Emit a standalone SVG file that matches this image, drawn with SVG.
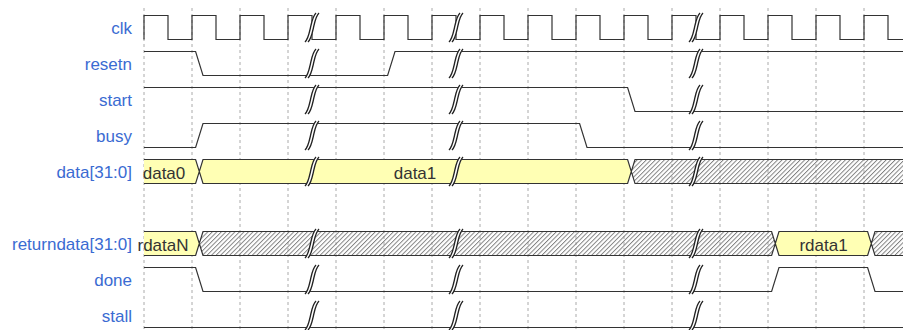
<svg xmlns="http://www.w3.org/2000/svg" xmlns:xlink="http://www.w3.org/1999/xlink" width="903" height="330" viewBox="0 0 903 330">
<style>
.lbl{font-family:"Liberation Sans",Arial,sans-serif;font-size:17px;fill:#3a6bd2;text-anchor:end}
.dt{font-family:"Liberation Sans",Arial,sans-serif;font-size:17px;fill:#333;text-anchor:middle}
.grid line{stroke:#aaa;stroke-width:1;stroke-dasharray:3,3}
.w{fill:none;stroke:#333;stroke-width:1.2}
.y{fill:#ffffb4;stroke:none}
.h{fill:url(#hatch);stroke:none}
.gw{fill:none;stroke:#fff;stroke-width:3.4}
.gl{fill:none;stroke:#222;stroke-width:1.3}
</style>
<defs>
<pattern id="hatch" width="3.2" height="3.2" patternUnits="userSpaceOnUse" patternTransform="rotate(45)">
<line x1="0.5" y1="0" x2="0.5" y2="3.2" stroke="#777" stroke-width="0.9"/>
</pattern>
<g id="gap">
<path class="gw" d="M5.5,-14.5 C2,-11 1,-4 0,0 C-1,4 -2,11 -5.5,14.5"/>
<path class="gl" d="M4,-14.5 C0.5,-11 -0.5,-4 -1.5,0 C-2.5,4 -3.5,11 -7,14.5"/>
<path class="gl" d="M7,-14.5 C3.5,-11 2.5,-4 1.5,0 C0.5,4 -0.5,11 -4,14.5"/>
</g>
</defs>
<g id="grid" class="grid">
<line x1="144" y1="8" x2="144" y2="330"/><line x1="192" y1="8" x2="192" y2="330"/><line x1="240" y1="8" x2="240" y2="330"/><line x1="288" y1="8" x2="288" y2="330"/><line x1="336" y1="8" x2="336" y2="330"/><line x1="384" y1="8" x2="384" y2="330"/><line x1="432" y1="8" x2="432" y2="330"/><line x1="480" y1="8" x2="480" y2="330"/><line x1="528" y1="8" x2="528" y2="330"/><line x1="576" y1="8" x2="576" y2="330"/><line x1="624" y1="8" x2="624" y2="330"/><line x1="672" y1="8" x2="672" y2="330"/><line x1="720" y1="8" x2="720" y2="330"/><line x1="768" y1="8" x2="768" y2="330"/><line x1="816" y1="8" x2="816" y2="330"/><line x1="864" y1="8" x2="864" y2="330"/>
</g>
<g id="clk">
<text class="lbl" x="132" y="33.5">clk</text>
<path class="w" d="M144,39.5 V15.5 H168 V39.5 H192 V15.5 H216 V39.5 H240 V15.5 H264 V39.5 H288 V15.5 H312 V39.5 H336 V15.5 H360 V39.5 H384 V15.5 H408 V39.5 H432 V15.5 H456 V39.5 H480 V15.5 H504 V39.5 H528 V15.5 H552 V39.5 H576 V15.5 H600 V39.5 H624 V15.5 H648 V39.5 H672 V15.5 H696 V39.5 H720 V15.5 H744 V39.5 H768 V15.5 H792 V39.5 H816 V15.5 H840 V39.5 H864 V15.5 H888 V39.5 H903"/>
<use xlink:href="#gap" href="#gap" x="312" y="27.5"/><use xlink:href="#gap" href="#gap" x="456" y="27.5"/><use xlink:href="#gap" href="#gap" x="696" y="27.5"/>
</g>
<g id="resetn">
<text class="lbl" x="132" y="69.5">resetn</text>
<path class="w" d="M144,51.5 H195.6 L203,75.5 H387.6 L395,51.5 H903"/>
<use xlink:href="#gap" href="#gap" x="312" y="63.5"/><use xlink:href="#gap" href="#gap" x="456" y="63.5"/><use xlink:href="#gap" href="#gap" x="696" y="63.5"/>
</g>
<g id="start">
<text class="lbl" x="132" y="105.5">start</text>
<path class="w" d="M144,87.5 H627.6 L635,111.5 H903"/>
<use xlink:href="#gap" href="#gap" x="312" y="99.5"/><use xlink:href="#gap" href="#gap" x="456" y="99.5"/><use xlink:href="#gap" href="#gap" x="696" y="99.5"/>
</g>
<g id="busy">
<text class="lbl" x="132" y="141.5">busy</text>
<path class="w" d="M144,147.5 H195.6 L203,123.5 H579.6 L587,147.5 H903"/>
<use xlink:href="#gap" href="#gap" x="312" y="135.5"/><use xlink:href="#gap" href="#gap" x="456" y="135.5"/><use xlink:href="#gap" href="#gap" x="696" y="135.5"/>
</g>
<g id="data">
<text class="lbl" x="132" y="177.5">data[31:0]</text>
<polygon class="y" points="144,159.5 195.6,159.5 199.3,171.5 195.6,183.5 144,183.5"/>
<polygon class="y" points="203,159.5 627.6,159.5 631.3,171.5 627.6,183.5 203,183.5 199.3,171.5"/>
<polygon class="h" points="635,159.5 903,159.5 903,183.5 635,183.5 631.3,171.5"/>
<path class="w" d="M144,159.5 H195.6 L203,183.5 H627.6 L635,159.5 H903 M144,183.5 H195.6 L203,159.5 H627.6 L635,183.5 H903"/>
<text class="dt" x="164" y="178.5">data0</text>
<text class="dt" x="415" y="178.5">data1</text>
<use xlink:href="#gap" href="#gap" x="312" y="171.5"/><use xlink:href="#gap" href="#gap" x="456" y="171.5"/><use xlink:href="#gap" href="#gap" x="696" y="171.5"/>
</g>
<g id="returndata">
<text class="lbl" x="132" y="249.5">returndata[31:0]</text>
<polygon class="y" points="144,231.5 195.6,231.5 199.3,243.5 195.6,255.5 144,255.5"/>
<polygon class="h" points="203,231.5 771.6,231.5 775.3,243.5 771.6,255.5 203,255.5 199.3,243.5"/>
<polygon class="y" points="779,231.5 867.6,231.5 871.3,243.5 867.6,255.5 779,255.5 775.3,243.5"/>
<polygon class="h" points="875,231.5 903,231.5 903,255.5 875,255.5 871.3,243.5"/>
<path class="w" d="M144,231.5 H195.6 L203,255.5 H771.6 L779,231.5 H867.6 L875,255.5 H903 M144,255.5 H195.6 L203,231.5 H771.6 L779,255.5 H867.6 L875,231.5 H903"/>
<text class="dt" x="163" y="250.5">rdataN</text>
<text class="dt" x="823.5" y="250.5">rdata1</text>
<use xlink:href="#gap" href="#gap" x="312" y="243.5"/><use xlink:href="#gap" href="#gap" x="456" y="243.5"/><use xlink:href="#gap" href="#gap" x="696" y="243.5"/>
</g>
<g id="done">
<text class="lbl" x="132" y="285.5">done</text>
<path class="w" d="M144,267.5 H195.6 L203,291.5 H771.6 L779,267.5 H867.6 L875,291.5 H903"/>
<use xlink:href="#gap" href="#gap" x="312" y="279.5"/><use xlink:href="#gap" href="#gap" x="456" y="279.5"/><use xlink:href="#gap" href="#gap" x="696" y="279.5"/>
</g>
<g id="stall">
<text class="lbl" x="132" y="321.5">stall</text>
<path class="w" d="M144,327.5 H903"/>
<use xlink:href="#gap" href="#gap" x="312" y="315.5"/><use xlink:href="#gap" href="#gap" x="456" y="315.5"/><use xlink:href="#gap" href="#gap" x="696" y="315.5"/>
</g>
</svg>
